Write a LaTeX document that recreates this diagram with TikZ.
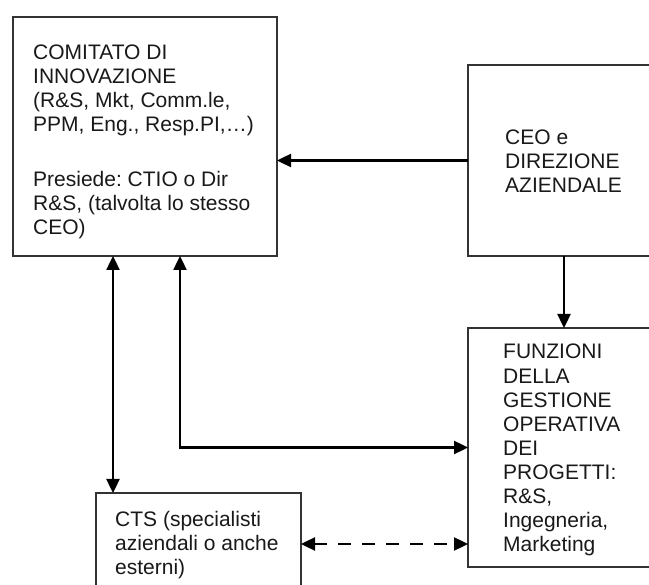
\documentclass[tikz,border=0pt]{standalone}
\usepackage{fontspec}
\setmainfont{Liberation Sans}
\frenchspacing
\usetikzlibrary{arrows.meta}
\tikzset{
  box/.style={draw=black!80, line width=1.6pt, fill=white, rectangle, inner sep=0pt, outer sep=0pt, anchor=north west},
  txt/.style={align=left, anchor=base west, inner sep=0pt, text=black!90, font=\fontsize{21}{24.1}\selectfont},
  arr/.style={line width=2.4pt, -{Triangle[length=14pt,width=13pt]}},
  darr/.style={line width=2.4pt, {Triangle[length=14pt,width=13pt]}-{Triangle[length=14pt,width=13pt]}},
  dsh/.style={dash pattern=on 13pt off 11pt}
}
\begin{document}
\begin{tikzpicture}[x=1pt,y=-1pt]
\useasboundingbox (0,0) rectangle (649,585);
\fill[white] (0,0) rectangle (649,585);
\clip (0,0) rectangle (649,585);
% boxes
\node[box, minimum width=264pt, minimum height=239pt] (com) at (13,17) {};
\node[box, minimum width=192pt, minimum height=191pt] (ceo) at (468,65) {};
\node[box, minimum width=192pt, minimum height=239pt] (fun) at (468,328) {};
\node[box, minimum width=205pt, minimum height=102pt] (cts) at (96,493) {};
% texts (anchored at the baseline of the last line)
\node[txt] (tcom1) at (33,235) {COMITATO DI\\INNOVAZIONE\\(R\&S, Mkt, Comm.le,\\PPM, Eng., Resp.PI,\dots)\\[31pt]Presiede: CTIO o Dir\\R\&S, (talvolta lo stesso\\CEO)};
\node[txt] (tceo) at (505,192.7) {CEO e\\DIREZIONE\\AZIENDALE};
\node[txt] (tfun) at (503,551.7) {FUNZIONI\\DELLA\\GESTIONE\\OPERATIVA\\DEI\\PROGETTI:\\R\&S,\\Ingegneria,\\Marketing};
\node[txt] (tcts) at (115,575) {CTS (specialisti\\aziendali o anche\\esterni)};
% connectors
\draw[arr] (ceo.west) -- (com.east |- ceo.west);
\draw[arr] (ceo.south) -- (fun.north);
\draw[darr] ([xshift=167pt]com.south west) |- (fun.west);
\draw[darr] ([xshift=100pt]com.south west) -- ([xshift=100pt]com.south west |- cts.north);
\draw[darr, dsh] (cts.east) -- (fun.west |- cts.east);
\end{tikzpicture}
\end{document}
